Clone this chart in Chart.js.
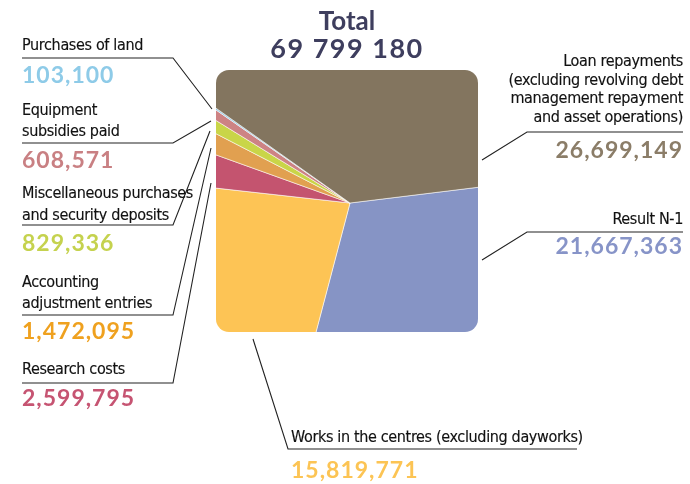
<!DOCTYPE html>
<html>
<head>
<meta charset="utf-8">
<script src="https://cdn.jsdelivr.net/npm/chart.js@4"></script>
<style>
  html, body { margin: 0; padding: 0; background: #ffffff; }
  #wrap { position: relative; width: 690px; height: 484px; overflow: hidden; }
  #chart { position: absolute; left: 0; top: 0; }
  .title { position: absolute; left: 247px; width: 200px; top: 7px; text-align: center;
    font: bold 26px/27px Lato, "Open Sans", sans-serif; color: #3e3e5e; }
  .title .big { font-size: 27px; letter-spacing: 1.5px; }
  .lbl { position: absolute; font: 16px "Liberation Sans Narrow", "DejaVu Sans Condensed", sans-serif;
    letter-spacing: -0.35px; color: #111111; -webkit-text-stroke: 0.15px #111111; white-space: nowrap; }
  .num { position: absolute; font: bold 23px/23px Lato, "Open Sans", sans-serif; letter-spacing: 1px; white-space: nowrap; }
  .right { text-align: right; }
</style>
</head>
<body>
<div id="wrap">
  <canvas id="chart" width="690" height="484"></canvas>
  <div class="title">Total<br><span class="big" id="total"></span></div>
  <div id="labels"></div>
</div>
<script>
// 値は画像から読み取り（Result N-1 から時計回り）
const categories = [
  "Result N-1",
  "Works in the centres (excluding dayworks)",
  "Research costs",
  "Accounting adjustment entries",
  "Miscellaneous purchases and security deposits",
  "Equipment subsidies paid",
  "Purchases of land",
  "Loan repayments (excluding revolving debt management repayment and asset operations)",
];
const values = [21667363, 15819771, 2599795, 1472095, 829336, 608571, 103100, 26699149];
const labelLines = [
  ["Result N-1"],
  ["Works in the centres (excluding dayworks)"],
  ["Research costs"],
  ["Accounting", "adjustment entries"],
  ["Miscellaneous purchases", "and security deposits"],
  ["Equipment", "subsidies paid"],
  ["Purchases of land"],
  ["Loan repayments", "(excluding revolving debt", "management repayment", "and asset operations)"],
];
const totalText = "69 799 180";

const SLICE = ["#8694c5", "#fdc455", "#c4546f", "#e1a050", "#c9d548", "#cd8384", "#8cc8e6", "#83755f"];
const NUMCOL = ["#8794c8", "#fcc454", "#c65472", "#efa11f", "#c5d24e", "#c98083", "#8ecbe8", "#8b7d68"];

// ラベル配置: x, 1行目ボックス上端, 行高, 数字の上端, 揃え
const LAYOUT = [
  { x: 683, top: 208, lh: 21, numTop: 234, align: "right" },
  { x: 291, top: 426, lh: 21, numTop: 458, align: "left" },
  { x: 22, top: 358, lh: 21, numTop: 386, align: "left" },
  { x: 22, top: 272, lh: 20.5, numTop: 319, align: "left" },
  { x: 22, top: 182, lh: 21.5, numTop: 231, align: "left" },
  { x: 22, top: 99, lh: 21, numTop: 148, align: "left" },
  { x: 22, top: 34, lh: 21, numTop: 63, align: "left" },
  { x: 683, top: 52, lh: 18.7, numTop: 138, align: "right" },
];

// 引き出し線
const LEADERS = [
  [[683, 232], [527, 232], [482, 260]],
  [[253, 339], [288, 449], [577, 449]],
  [[22, 383], [173, 383], [211, 183]],
  [[22, 315], [173, 315], [211, 148]],
  [[22, 225], [173, 225], [210, 131]],
  [[22, 143], [173, 143], [211, 121]],
  [[22, 58], [173, 58], [212, 109]],
  [[683, 132], [527, 132], [482, 160]],
];

const fmt = (v) => v.toLocaleString("en-US");

document.getElementById("total").textContent = totalText;
document.getElementById("labels").innerHTML = LAYOUT.map((p, i) => {
  const pos = p.align === "right" ? `right:${690 - p.x}px` : `left:${p.x}px`;
  return `
    <div class="lbl ${p.align}" style="${pos};top:${p.top}px;line-height:${p.lh}px">${labelLines[i].join("<br>")}</div>
    <div class="num ${p.align}" style="${pos};top:${p.numTop}px;color:${NUMCOL[i]}">${fmt(values[i])}</div>`;
}).join("");

// 角丸の四角でパイを切り抜く
const squareClip = {
  id: "squareClip",
  beforeDatasetsDraw(chart) {
    const arc = chart.getDatasetMeta(0).data[0];
    const ctx = chart.ctx;
    ctx.save();
    ctx.beginPath();
    ctx.roundRect(arc.x - 134, arc.y - 133, 262, 262, 13);
    ctx.clip();
  },
  afterDatasetsDraw(chart) {
    chart.ctx.restore();
  },
};

const leaderLines = {
  id: "leaderLines",
  afterDraw(chart) {
    const ctx = chart.ctx;
    ctx.save();
    ctx.strokeStyle = "#222222";
    ctx.lineWidth = 1.1;
    LEADERS.forEach((path) => {
      ctx.beginPath();
      path.forEach(([x, y], k) => (k ? ctx.lineTo(x, y) : ctx.moveTo(x, y)));
      ctx.stroke();
    });
    ctx.restore();
  },
};

new Chart(document.getElementById("chart"), {
  type: "pie",
  data: {
    labels: categories,
    datasets: [{
      data: values,
      backgroundColor: SLICE,
      borderColor: "rgba(255,255,255,0.7)",
      borderWidth: 0.8,
    }],
  },
  options: {
    responsive: false,
    animation: false,
    events: [],
    rotation: 83,
    layout: { padding: { left: 160, right: 150, top: 13, bottom: 91 } },
    plugins: { legend: { display: false }, tooltip: { enabled: false } },
  },
  plugins: [squareClip, leaderLines],
});
</script>
</body>
</html>
